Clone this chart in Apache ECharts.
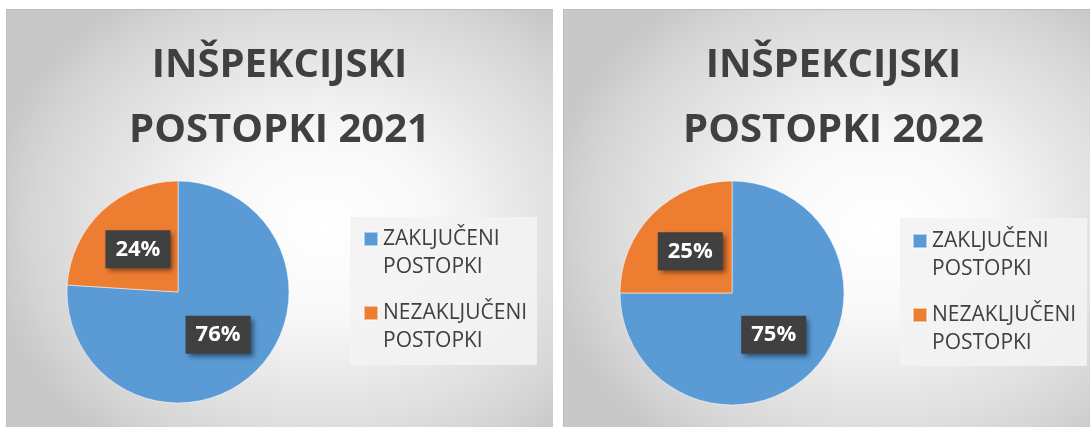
<!DOCTYPE html>
<html>
<head>
<meta charset="utf-8">
<script src="https://cdn.jsdelivr.net/npm/echarts@6/dist/echarts.min.js"></script>
<style>
  html, body { margin: 0; padding: 0; background: #fff; overflow: hidden; width: 1090px; height: 427px; }
  .panel {
    position: absolute;
    top: 9px;
    height: 418px;
    background: radial-gradient(ellipse 62% 66% at 58% 52%, #ffffff 0%, #f8f8f8 33%, #d6d6d6 85%, #c8c8c8 100%);
    box-shadow: inset 1px 1px 0 #bdbdbd;
  }
</style>
</head>
<body>
  <!-- dva panela, kot v izvirniku -->
  <div id="chart2021" class="panel" style="left: 6px; width: 547px"></div>
  <div id="chart2022" class="panel" style="left: 563px; width: 541px"></div>

<script>
const categories = ["ZAKLJUČENI POSTOPKI", "NEZAKLJUČENI POSTOPKI"];
const values2021 = [76, 24];
const values2022 = [75, 25];
const title2021 = "INŠPEKCIJSKI\nPOSTOPKI 2021";
const title2022 = "INŠPEKCIJSKI\nPOSTOPKI 2022";

const colors = ["#5b9bd5", "#ed7d31"];
const font = "'Open Sans', 'DejaVu Sans', sans-serif";

function makeOption(title, values, layout) {
  return {
    animation: false,
    backgroundColor: "transparent",
    color: colors,
    title: {
      text: title,
      left: "center",
      top: layout.titleTop,
      padding: 0,
      textStyle: {
        fontFamily: font,
        fontWeight: "bold",
        fontSize: 40,
        lineHeight: 65,
        color: "#404040",
      },
    },
    graphic: [
      {
        type: "rect",
        left: layout.boxLeft,
        top: layout.boxTop,
        z: -1,
        silent: true,
        shape: { width: 187, height: 148 },
        style: { fill: "rgba(243,243,243,0.9)" },
      },
    ],
    legend: {
      orient: "vertical",
      left: layout.legendLeft,
      top: layout.legendTop,
      padding: 0,
      itemWidth: 14,
      itemHeight: 14,
      itemGap: -10,
      icon: "rect",
      selectedMode: false,
      data: categories,
      // prazna prva vrstica, da je kvadratek poravnan s prvo vrstico besedila
      formatter: (name) => "\n" + name.replace(" ", "\n"),
      textStyle: {
        fontFamily: font,
        fontSize: 21,
        lineHeight: 28,
        color: "#404040",
      },
    },
    series: [
      {
        type: "pie",
        center: layout.center,
        radius: layout.radius,
        startAngle: 90,
        clockwise: true,
        silent: true,
        percentPrecision: 0,
        data: categories.map((name, i) => ({ name: name, value: values[i] })),
        itemStyle: {
          borderColor: "rgba(255,255,255,0.5)",
          borderWidth: 1,
        },
        labelLine: { show: false },
        label: {
          position: "inside",
          formatter: "{d}%",
          color: "#fff",
          fontFamily: font,
          fontWeight: "bold",
          fontSize: 22,
          lineHeight: 30,
          backgroundColor: "#404040",
          padding: [4, 10, 4, 10],
          shadowColor: "rgba(0,0,0,0.5)",
          shadowBlur: 5,
          shadowOffsetX: 3,
          shadowOffsetY: 3,
        },
        emphasis: { disabled: true },
      },
    ],
  };
}

echarts.init(document.getElementById("chart2021")).setOption(
  makeOption(title2021, values2021, {
    titleTop: 24,
    center: [172, 283],
    radius: 111,
    boxLeft: 344,
    boxTop: 208,
    legendLeft: 357,
    legendTop: 188,
  })
);

echarts.init(document.getElementById("chart2022")).setOption(
  makeOption(title2022, values2022, {
    titleTop: 24,
    center: [169, 284],
    radius: 112,
    boxLeft: 337,
    boxTop: 209,
    legendLeft: 349,
    legendTop: 190,
  })
);
</script>
</body>
</html>
